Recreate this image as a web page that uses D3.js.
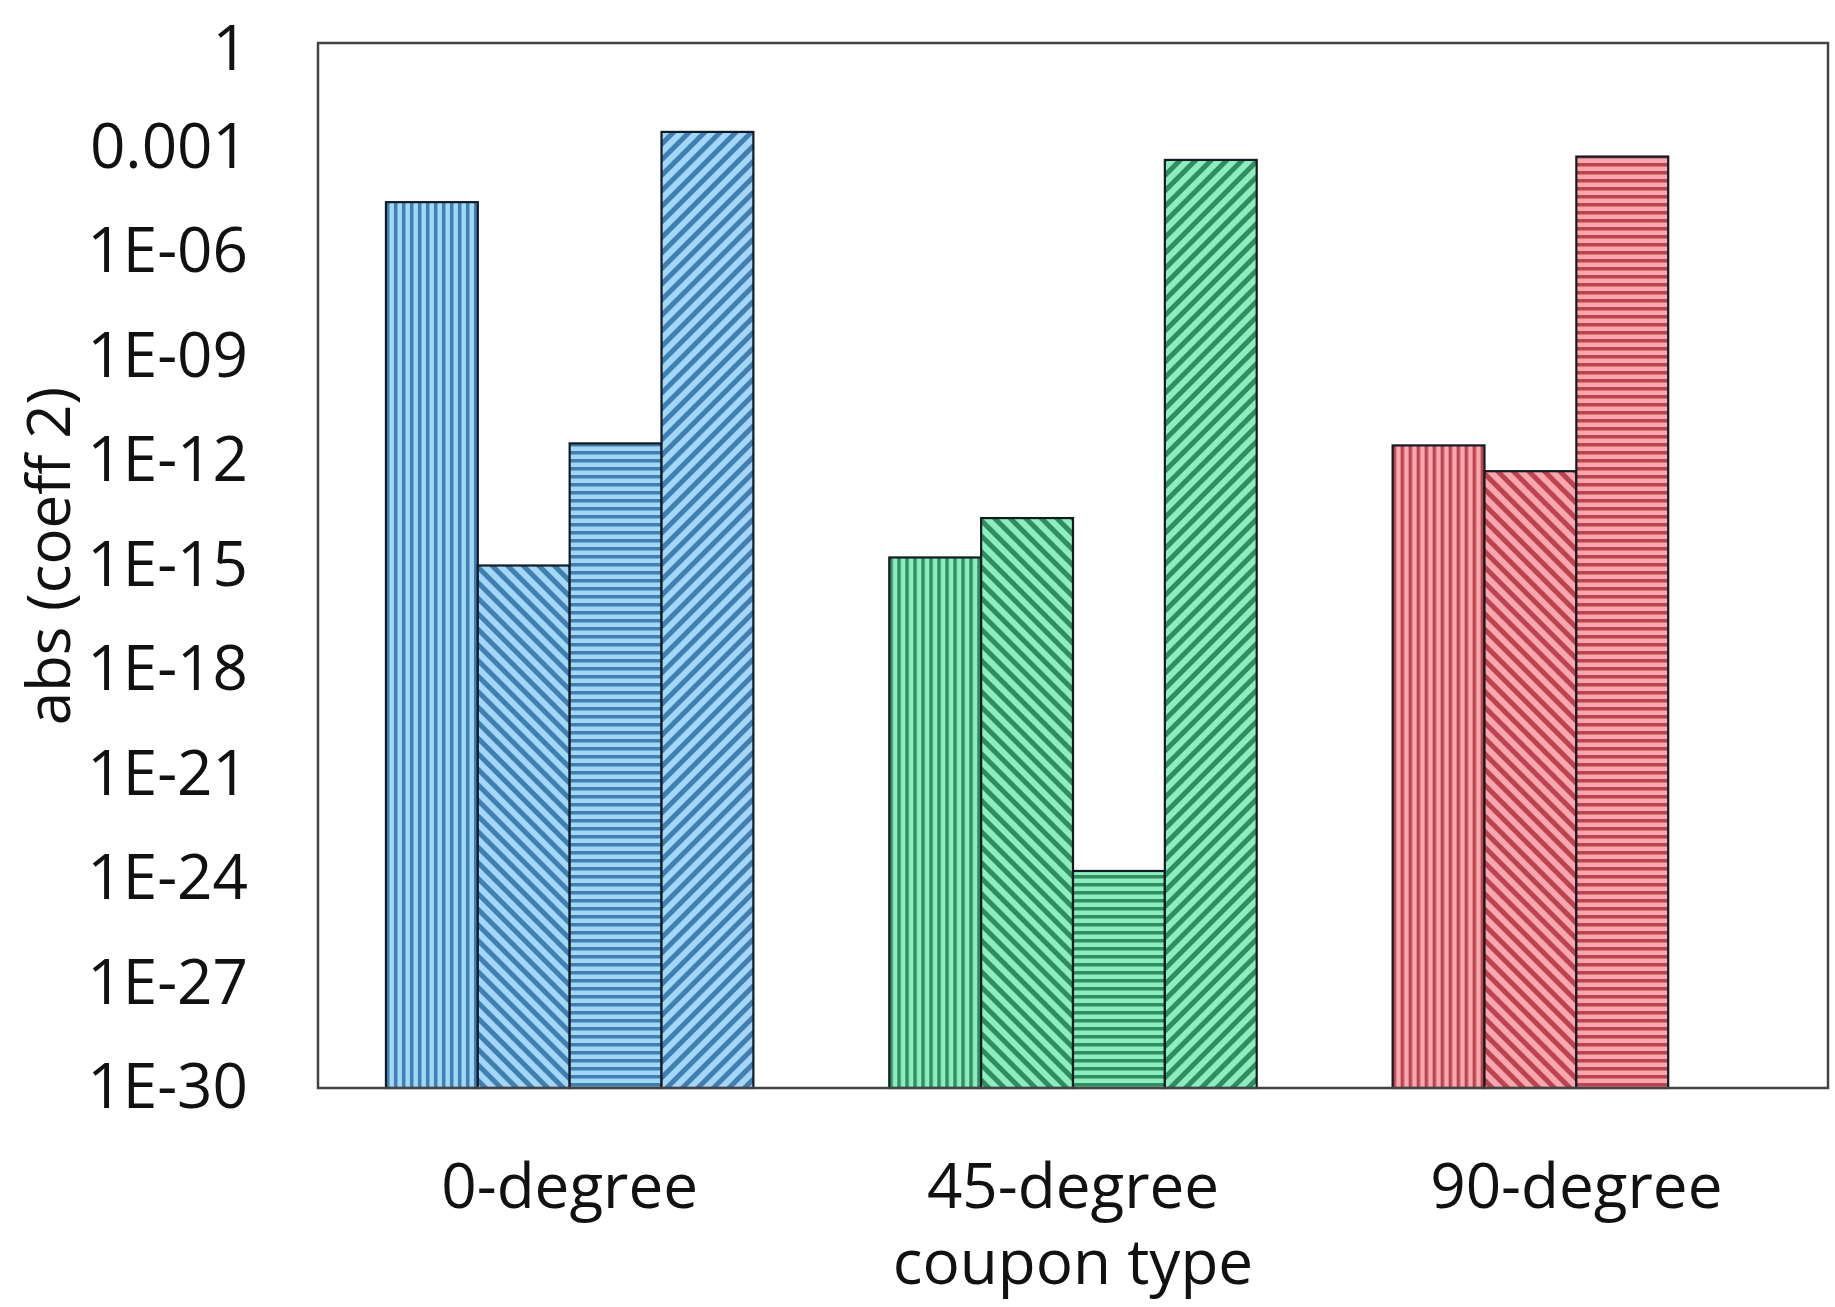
<!DOCTYPE html>
<html>
<head>
<meta charset="utf-8">
<script src="https://cdn.jsdelivr.net/npm/d3@7"></script>
<style>
  html, body { margin: 0; padding: 0; background: #fff; }
  svg { display: block; }
  text { font-family: 'Open Sans', 'Noto Sans', sans-serif; fill: #111; }
</style>
</head>
<body>
<script>
// chart data
const categories = ['0-degree', '45-degree', '90-degree'];
const seriesKeys = ['s1', 's2', 's3', 's4'];
const s1 = [2.7e-5, 1.7e-15, 2.8e-12];
const s2 = [1.0e-15, 2.3e-14, 5.1e-13];
const s3 = [3.2e-12, 1.7e-24, 5.5e-4];
const s4 = [2.8e-3, 4.4e-4, null];
const tickValues = [1, 1e-3, 1e-6, 1e-9, 1e-12, 1e-15, 1e-18, 1e-21, 1e-24, 1e-27, 1e-30];
const tickLabels = ['1', '0.001', '1E-06', '1E-09', '1E-12', '1E-15', '1E-18', '1E-21', '1E-24', '1E-27', '1E-30'];
const yTitle = 'abs (coeff 2)';
const xTitle = 'coupon type';

const width = 1835, height = 1307;
const margin = { top: 43, right: 7, bottom: 219, left: 318 };
const innerW = width - margin.left - margin.right;
const innerH = height - margin.top - margin.bottom;

// colours per category: [light, dark]
const palette = [
  ['#a2d8f6', '#3f7fb2'],
  ['#8eedbf', '#2f8d60'],
  ['#f6a8ae', '#bd444f']
];
// pattern kind per series
const kinds = ['vert', 'back', 'horiz', 'fwd'];

const rows = categories.map((c, i) => ({
  cat: c, ci: i,
  vals: [s1[i], s2[i], s3[i], s4[i]]
}));

const svg = d3.select('body').append('svg')
  .attr('width', width).attr('height', height);

const defs = svg.append('defs');
palette.forEach((col, ci) => {
  kinds.forEach(k => {
    const diag = k === 'back' || k === 'fwd';
    const size = diag ? 11 : 8;
    const p = defs.append('pattern')
      .attr('id', `p-${ci}-${k}`)
      .attr('patternUnits', 'userSpaceOnUse')
      .attr('width', size).attr('height', size);
    if (k === 'back') p.attr('patternTransform', 'rotate(-45)');
    if (k === 'fwd') p.attr('patternTransform', 'rotate(45)');
    if (k === 'horiz') p.attr('patternTransform', 'rotate(90)');
    p.append('rect').attr('width', size).attr('height', size).attr('fill', col[0]);
    p.append('rect').attr('width', diag ? 5 : 3.5).attr('height', size).attr('fill', col[1]);
  });
});

const g = svg.append('g').attr('transform', `translate(${margin.left},${margin.top})`);

const x0 = d3.scaleBand().domain(categories).range([0, innerW])
  .paddingInner(0.27).paddingOuter(0.135);
const x1 = d3.scaleBand().domain(seriesKeys).range([0, x0.bandwidth()]);
const y = d3.scaleLog().domain([1e-30, 1]).range([innerH, 0]);

// bars
const grp = g.selectAll('g.cat').data(rows).enter().append('g')
  .attr('class', 'cat')
  .attr('transform', d => `translate(${x0(d.cat)},0)`);

grp.selectAll('rect')
  .data(d => d.vals.map((v, si) => ({ v, si, ci: d.ci })).filter(e => e.v != null))
  .enter().append('rect')
  .attr('x', d => x1(seriesKeys[d.si]))
  .attr('width', x1.bandwidth())
  .attr('y', d => y(d.v))
  .attr('height', d => innerH - y(d.v))
  .attr('fill', d => `url(#p-${d.ci}-${kinds[d.si]})`)
  .attr('stroke', '#141a22')
  .attr('stroke-width', 2.2);

// frame
g.append('rect')
  .attr('width', innerW).attr('height', innerH)
  .attr('fill', 'none').attr('stroke', '#444').attr('stroke-width', 2.5);

// y axis
const yAxis = g.append('g').call(
  d3.axisLeft(y).tickValues(tickValues)
    .tickFormat((d, i) => tickLabels[i]).tickSize(0).tickPadding(70)
);
yAxis.select('.domain').remove();
yAxis.selectAll('text').style('font-size', '62px').style('font-family', "'Open Sans', sans-serif").attr('fill', '#111');
// keep the top label inside the page
yAxis.selectAll('text').filter((d, i) => i === 0).attr('dy', '0.42em');

// x axis
const xAxis = g.append('g').attr('transform', `translate(0,${innerH})`)
  .call(d3.axisBottom(x0).tickSize(0).tickPadding(76));
xAxis.select('.domain').remove();
xAxis.selectAll('text').style('font-size', '62px').style('font-family', "'Open Sans', sans-serif").attr('fill', '#111');

// titles
svg.append('text')
  .attr('transform', `translate(70,${556}) rotate(-90)`)
  .attr('text-anchor', 'middle')
  .style('font-size', '60px')
  .text(yTitle);

svg.append('text')
  .attr('x', margin.left + innerW / 2)
  .attr('y', 1284)
  .attr('text-anchor', 'middle')
  .style('font-size', '62px')
  .text(xTitle);
</script>
</body>
</html>
